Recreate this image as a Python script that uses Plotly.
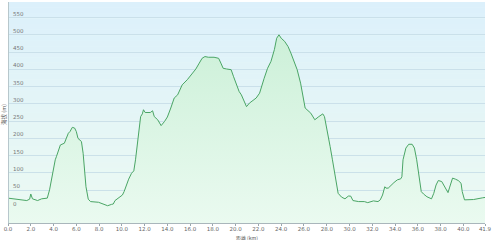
import plotly.graph_objects as go

# distance (km) and elevation (m)
distance_km = [0.0, 0.5, 1.0, 1.65, 1.9, 2.0, 2.15, 2.6, 2.95, 3.45, 3.65, 3.85, 4.0, 4.15, 4.25, 4.45, 4.6,
               4.95, 5.15, 5.3, 5.45, 5.65, 5.85, 6.0, 6.15, 6.3, 6.45, 6.6, 6.75, 6.85, 7.05, 7.25, 7.95,
               8.55, 8.75, 9.1, 9.25, 9.4, 9.7, 10.05, 10.2, 10.4, 10.6, 10.85, 11.05, 11.2, 11.35, 11.5,
               11.65, 11.8, 11.9, 12.05, 12.3, 12.5, 12.7, 12.85, 13.15, 13.45, 13.75, 13.9, 14.0, 14.3,
               14.6, 14.9, 15.3, 15.75, 16.0, 16.5, 16.8, 17.05, 17.3, 17.6, 18.1, 18.5, 18.7, 18.9, 19.2,
               19.6, 19.8, 20.1, 20.3, 20.5, 20.7, 20.95, 21.2, 21.5, 21.8, 22.1, 22.3, 22.5, 22.8, 23.1,
               23.4, 23.6, 23.8, 24.0, 24.3, 24.6, 24.85, 25.1, 25.4, 25.7, 25.9, 26.1, 26.6, 26.95, 27.3,
               27.65, 27.8, 28.1, 28.3, 28.5, 28.7, 28.8, 29.0, 29.3, 29.6, 29.9, 30.1, 30.3, 30.8, 31.3,
               31.6, 32.1, 32.5, 32.7, 32.9, 33.1, 33.2, 33.4, 33.65, 33.9, 34.2, 34.5, 34.6, 34.7, 34.95,
               35.2, 35.5, 35.7, 35.9, 36.1, 36.3, 36.5, 36.8, 37.2, 37.4, 37.6, 37.8, 38.1, 38.4, 38.65,
               38.8, 39.05, 39.3, 39.55, 39.8, 39.9, 40.1, 40.9, 41.7, 41.9]
elevation_m = [27, 25, 23, 20, 24, 39, 25, 20, 25, 27, 51, 89, 109, 138, 147, 167, 181,
               186, 200, 215, 220, 232, 230, 220, 200, 194, 191, 157, 109, 60, 24, 17, 15,
               9, 5, 9, 10, 20, 27, 36, 46, 65, 82, 99, 106, 138, 186, 234,
               263, 271, 283, 275, 274, 275, 280, 263, 254, 237, 249, 259, 262, 288,
               317, 326, 355, 370, 381, 401, 418, 432, 437, 435, 435, 432, 418, 403, 401,
               399, 380, 355, 336, 326, 312, 292, 302, 310, 317, 331, 355, 374, 403, 423,
               457, 490, 500, 490, 481, 466, 447, 423, 399, 360, 321, 288, 273, 254, 263,
               271, 263, 215, 176, 138, 99, 70, 41, 30, 25, 33, 33, 20, 17, 17,
               14, 19, 17, 22, 36, 60, 56, 56, 65, 72, 80, 83, 89, 138, 172,
               183, 183, 172, 138, 89, 46, 39, 31, 25, 41, 65, 78, 75, 59, 43,
               59, 85, 82, 78, 70, 46, 22, 23, 28, 29]

y_ticks = [0, 50, 100, 150, 200, 250, 300, 350, 400, 450, 500, 550]
x_ticks = [0, 2, 4, 6, 8, 10, 12, 14, 16, 18, 20, 22, 24, 26, 28, 30, 32, 34, 36, 38, 40, 41.9]
x_ticktext = ["0.0", "2.0", "4.0", "6.0", "8.0", "10.0", "12.0", "14.0", "16.0", "18.0", "20.0",
              "22.0", "24.0", "26.0", "28.0", "30.0", "32.0", "34.0", "36.0", "38.0", "40.0", "41.9"]
y_title = "海拔 (m)"
x_title = "距離 (km)"

y_min, y_max = -45, 595
x_min, x_max = 0, 41.9

fig = go.Figure()
# baseline for fill to bottom of plot
fig.add_trace(go.Scatter(x=[x_min, x_max], y=[y_min, y_min], mode="lines",
                         line=dict(width=0), hoverinfo="skip", showlegend=False))
fig.add_trace(go.Scatter(
    x=distance_km, y=elevation_m, mode="lines",
    line=dict(color="#4aa565", width=1),
    fill="tonexty",
    fillgradient=dict(type="vertical",
                      colorscale=[[0, "rgba(234,250,240,1)"], [1, "rgba(204,240,216,1)"]]),
    showlegend=False,
))

# background gradient (light mint bottom -> light blue top)
shapes = []
n = 40
c0 = (236, 250, 242)
c1 = (220, 240, 251)
for i in range(n):
    t = i / (n - 1)
    c = tuple(int(round(c0[k] + (c1[k] - c0[k]) * t)) for k in range(3))
    shapes.append(dict(type="rect", xref="paper", yref="paper", x0=0, x1=1,
                       y0=i / n, y1=(i + 1) / n, fillcolor="rgb(%d,%d,%d)" % c,
                       line=dict(width=0), layer="below"))

fig.update_layout(
    width=494, height=240,
    margin=dict(l=8, r=2, t=2, b=17),
    paper_bgcolor="white",
    plot_bgcolor="rgb(230,246,248)",
    shapes=shapes,
    font=dict(family="DejaVu Sans", size=6, color="#666666"),
    xaxis=dict(range=[x_min, x_max], tickvals=x_ticks, ticktext=x_ticktext,
               ticks="outside", ticklen=2, tickcolor="#9aa7ad", tickwidth=1,
               ticklabeloverflow="allow", ticklabelstandoff=-2,
               showline=True, linecolor="#a9b6bb", linewidth=1,
               showgrid=False, zeroline=False,
               tickfont=dict(size=5.5, color="#666666")),
    yaxis=dict(range=[y_min, y_max], tickvals=y_ticks,
               side="right", anchor="free", position=0,
               ticklabelposition="outside top", ticks="", ticklabelstandoff=3,
               showline=True, linecolor="#b7c7cc", linewidth=1,
               showgrid=True, gridcolor="rgba(200,222,232,0.9)", gridwidth=1,
               zeroline=False,
               tickfont=dict(size=5.5, color="#777777")),
    annotations=[
        dict(text=y_title, xref="paper", yref="paper", x=-0.008, y=0.49, xanchor="center",
             yanchor="middle", textangle=-90, showarrow=False,
             font=dict(family="Noto Sans CJK TC", size=5.5, color="#555555")),
        dict(text=x_title, xref="paper", yref="paper", x=0.5, y=-0.066, xanchor="center",
             yanchor="middle", showarrow=False,
             font=dict(family="Noto Sans CJK TC", size=5, color="#555555")),
    ],
)

fig.write_html("out.html")
